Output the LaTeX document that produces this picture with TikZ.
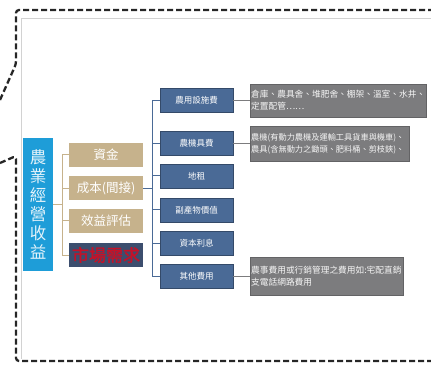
\documentclass[tikz,border=0pt]{standalone}
\usepackage{fontspec}
\newfontfamily\cjk[AutoFakeBold=2]{Noto Sans CJK TC}
\usetikzlibrary{calc}
\definecolor{rootblue}{RGB}{30,157,216}
\definecolor{tan}{RGB}{198,178,140}
\definecolor{navy}{RGB}{60,78,110}
\definecolor{steel}{RGB}{74,106,150}
\definecolor{slate}{RGB}{124,124,126}
\definecolor{redtxt}{RGB}{196,18,40}

\begin{document}
\begin{tikzpicture}[x=1pt,y=-1pt,font=\cjk,
    tanbox/.style={rectangle,fill=tan,text=white,minimum width=74pt,minimum height=24pt,inner sep=0pt,font=\cjk\fontsize{12.5}{14}\selectfont},
    bluebox/.style={rectangle,fill=steel,draw=steel!70!black,line width=0.4pt,text=white,minimum width=73pt,minimum height=24pt,inner sep=0pt,font=\cjk\fontsize{8.5}{10}\selectfont},
    graybox/.style={rectangle,fill=slate,draw=slate!80!black,line width=0.4pt,text=white!92!slate,anchor=west,align=left,inner xsep=1pt,inner ysep=0pt,font=\cjk\fontsize{8.7}{12}\selectfont}]
  \useasboundingbox (0,0) rectangle (431,366);
  \draw [gray!35,line width=0.6pt] (431,18) -- (21,18) -- (21,359);
  \draw [black!85,line width=2.3pt,dash pattern=on 6pt off 3pt,rounded corners=3pt]
    (0,100) -- (16,64) -- (16,10) -- (431,10);
  \draw [black!85,line width=2.3pt,dash pattern=on 6pt off 3pt,rounded corners=3pt]
    (0,163) -- (16,156) -- (16,361) -- (431,361);

  \node (root) [rectangle,fill=rootblue,text=white!88!rootblue,minimum width=30pt,minimum height=133pt,inner sep=0pt,align=center,font=\cjk\fontsize{16.5}{19}\selectfont] at (38,204.5) {農\\業\\經\\營\\收\\益};

  \foreach \y/\t [count=\i] in {155/資金,188.5/{成本(間接)},221/效益評估}{
    \node (c\i) [tanbox] at (106,\y) {\t};
  }
  \node (c4) [tanbox,fill=navy,text=redtxt,font=\cjk\bfseries\fontsize{17}{18}\selectfont] at (106,255) {市場需求};

  \coordinate (tj) at (62,0);
  \draw [tan,line width=1pt] (root.east) -- (tj |- root.east);
  \draw [tan,line width=1pt] (tj |- c1.west) -- (tj |- c4.west);
  \foreach \i in {1,...,4}{
    \draw [tan,line width=1pt] (tj |- c\i.west) -- (c\i.west);
  }

  \foreach \y/\t [count=\i] in {100.5/農用設施費,143.5/農機具費,176/地租,210/副產物價值,243.5/資本利息,276/其他費用}{
    \node (b\i) [bluebox] at (196.5,\y) {\t};
  }

  \coordinate (bj) at (152,0);
  \draw [steel,line width=1pt] (c2.east) -- (bj |- c2.east);
  \draw [steel,line width=1pt] (bj |- b1.west) -- (bj |- b6.west);
  \foreach \i in {1,...,6}{
    \draw [steel,line width=1pt] (bj |- b\i.west) -- (b\i.west);
  }

  \node (g1) [graybox,text width=174pt,minimum height=33pt] at (250,100.5) {倉庫、農具舍、堆肥舍、棚架、溫室、水井、\\定置配管……};
  \node (g2) [graybox,text width=157pt,minimum height=35pt,font=\cjk\fontsize{8.2}{12}\selectfont] at (250,143.5) {農機(有動力農機及運輸工具貨車與機車)、\\農具(含無動力之鋤頭、肥料桶、剪枝鋏)、};
  \node (g3) [graybox,text width=151pt,minimum height=38pt] at (250,276) {農事費用或行銷管理之費用如:宅配直銷\\支電話網路費用};

  \foreach \i/\j in {1/1,2/2,6/3}{
    \draw [slate,line width=1pt] (b\i.east) -- (g\j.west);
  }
\end{tikzpicture}
\end{document}
